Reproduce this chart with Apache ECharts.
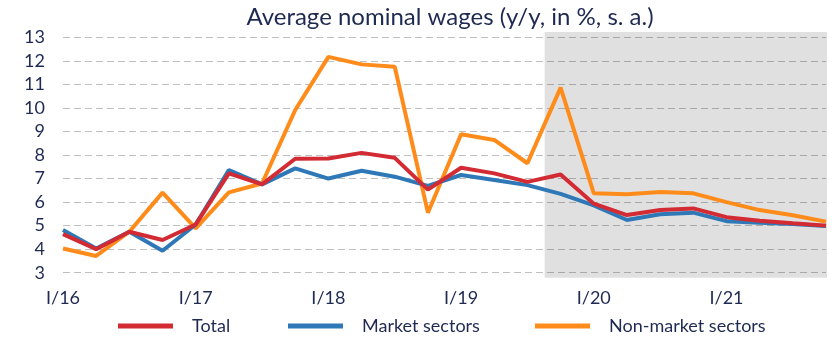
<!DOCTYPE html>
<html>
<head>
<meta charset="utf-8">
<script src="https://cdn.jsdelivr.net/npm/echarts@6/dist/echarts.min.js"></script>
<style>html,body{margin:0;padding:0;background:#fff}#c{width:834px;height:347px}</style>
</head>
<body>
<div id="c"></div>
<script>
const categories = ['I/16','II/16','III/16','IV/16','I/17','II/17','III/17','IV/17','I/18','II/18','III/18','IV/18','I/19','II/19','III/19','IV/19','I/20','II/20','III/20','IV/20','I/21','II/21','III/21','IV/21'];
const total = [4.64,4.0,4.74,4.39,5.05,7.22,6.75,7.84,7.85,8.09,7.88,6.53,7.46,7.22,6.86,7.17,5.93,5.45,5.66,5.73,5.36,5.21,5.1,5.0];
const market = [4.81,4.03,4.74,3.93,5.05,7.36,6.75,7.43,7.0,7.33,7.08,6.69,7.15,6.94,6.72,6.35,5.86,5.24,5.48,5.55,5.19,5.12,5.07,4.98];
const nonMarket = [4.03,3.71,4.74,6.4,4.88,6.41,6.79,9.91,12.17,11.85,11.75,5.55,8.88,8.64,7.65,10.86,6.37,6.33,6.43,6.37,6.0,5.66,5.44,5.17];
const shadeRange = [14.5, 23];
const yMin = 3, yMax = 13, yStep = 1;
const legendNames = ['Total', 'Market sectors', 'Non-market sectors'];

const FONT = 'Lato';
const TXT = '#1F2A52';
const legendLeft = [118, 288, 535];
const chart = echarts.init(document.getElementById('c'), null, {renderer: 'canvas'});
chart.setOption({
  animation: false,
  textStyle: {fontFamily: FONT, color: TXT},
  title: {
    text: 'Average nominal wages (y/y, in %, s. a.)',
    left: 445, top: 0, textAlign: 'center',
    textStyle: {fontFamily: FONT, fontWeight: 'normal', fontSize: 24, color: TXT}
  },
  legend: legendNames.map((n, i) => ({
    left: legendLeft[i], top: 317, padding: 0, itemWidth: 55, itemHeight: 5, icon: 'rect',
    textStyle: {fontFamily: FONT, fontSize: 18, color: TXT, padding: [0, 0, 0, 14]},
    data: [n]
  })),
  grid: [
    {left: 63, right: 8, top: 37.3, bottom: 74.3, containLabel: false},
    {left: 63, right: 7, top: 32, bottom: 69.3, containLabel: false}
  ],
  xAxis: [
    {
      type: 'category', data: categories, boundaryGap: false, gridIndex: 0,
      axisLine: {show: false}, axisTick: {show: false},
      axisLabel: {interval: 3, margin: 16, fontFamily: FONT, fontSize: 18, color: TXT},
      splitLine: {show: false}
    },
    {type: 'value', gridIndex: 1, min: 0, max: 23, show: false}
  ],
  yAxis: [
    {
      type: 'value', gridIndex: 0, min: yMin, max: yMax, interval: yStep, z: 1,
      axisLine: {show: false}, axisTick: {show: false},
      axisLabel: {margin: 18, fontFamily: FONT, fontSize: 18, color: TXT},
      splitLine: {show: true, lineStyle: {color: 'rgba(0,0,0,0.25)', width: 1, type: [7, 4]}}
    },
    {type: 'value', gridIndex: 1, min: 0, max: 1, show: false}
  ],
  series: [
    {
      name: 'shade', type: 'line', xAxisIndex: 1, yAxisIndex: 1, z: -1,
      data: [[shadeRange[0], -1]], showSymbol: false, lineStyle: {width: 0}, silent: true,
      markArea: {
        silent: true, z: -1,
        itemStyle: {color: '#E0E0E0'},
        data: [[{xAxis: shadeRange[0]}, {xAxis: shadeRange[1]}]]
      }
    },
    {
      name: 'Market sectors', type: 'line', data: market, z: 3,
      showSymbol: false, symbol: 'none',
      lineStyle: {color: '#2E78B7', width: 4}, itemStyle: {color: '#2E78B7'}
    },
    {
      name: 'Non-market sectors', type: 'line', data: nonMarket, z: 2,
      showSymbol: false, symbol: 'none',
      lineStyle: {color: '#FF8C1A', width: 4}, itemStyle: {color: '#FF8C1A'}
    },
    {
      name: 'Total', type: 'line', data: total, z: 4,
      showSymbol: false, symbol: 'none',
      lineStyle: {color: '#D22B33', width: 4}, itemStyle: {color: '#D22B33'}
    }
  ]
});
</script>
</body>
</html>
